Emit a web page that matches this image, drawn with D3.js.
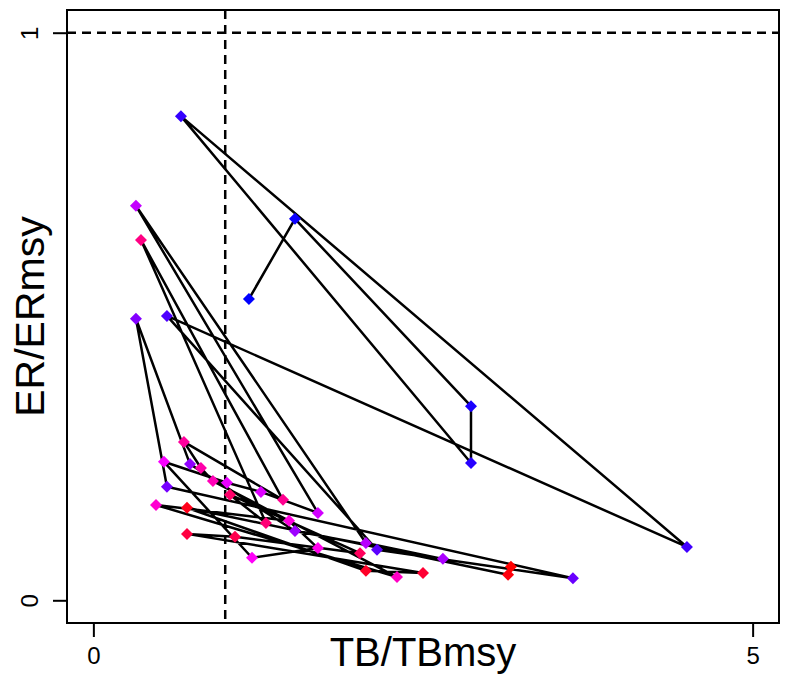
<!DOCTYPE html>
<html><head><meta charset="utf-8">
<script src="https://cdn.jsdelivr.net/npm/d3@7"></script>
<style>body{margin:0;background:#fff}</style>
</head><body>
<svg id="c" width="791" height="681"></svg>
<script>
// Time-ordered trajectory (TB/TBmsy, ER/ERmsy)
const tb = [1.180,1.529,2.864,2.864,0.664,4.502,0.558,2.151,3.637,0.558,
            0.323,0.733,1.529,2.651,2.067,0.323,1.703,1.271,1.013,0.535,
            1.203,1.703,1.484,0.475,2.303,0.907,0.816,0.687,1.438,0.361,
            1.309,1.036,2.022,1.074,0.710,2.500,2.067,0.710,3.145,3.167];
const er = [0.531,0.672,0.342,0.242,0.853,0.094,0.501,0.089,0.039,0.200,
            0.496,0.240,0.122,0.073,0.101,0.695,0.154,0.191,0.207,0.244,
            0.075,0.092,0.140,0.168,0.041,0.210,0.233,0.279,0.177,0.635,
            0.136,0.186,0.083,0.112,0.117,0.048,0.052,0.163,0.045,0.059];
const xTicks = [0, 5];
const yTicks = [0, 1];
const xLabel = "TB/TBmsy";
const yLabel = "ER/ERmsy";
const refX = 1, refY = 1;

const svg = d3.select("#c");
const L = 67, R = 779, T = 10, B = 623;
const x = d3.scaleLinear().domain([-0.2, 5.2]).range([L, R]);
const y = d3.scaleLinear().domain([-0.04, 1.04]).range([B, T]);
const font = "'Liberation Sans', Arial, Helvetica, sans-serif";
const n = tb.length;
const pts = tb.map((v, i) => ({x: v, y: er[i], i}));
const col = i => d3.hsl(240 + 120 * i / (n - 1), 1, 0.5).toString();

// reference lines
svg.append("line").attr("x1", x(refX)).attr("x2", x(refX)).attr("y1", T).attr("y2", B)
  .attr("stroke", "#000").attr("stroke-width", 2.5).attr("stroke-dasharray", "9,6");
svg.append("line").attr("x1", L).attr("x2", R).attr("y1", y(refY)).attr("y2", y(refY))
  .attr("stroke", "#000").attr("stroke-width", 2.5).attr("stroke-dasharray", "9,6");

// trajectory
svg.append("path").datum(pts)
  .attr("d", d3.line().x(d => x(d.x)).y(d => y(d.y)))
  .attr("fill", "none").attr("stroke", "#000").attr("stroke-width", 2.5)
  .attr("stroke-linejoin", "round");

// diamonds
const r = 6;
svg.append("g").selectAll("path").data(pts).join("path")
  .attr("d", d => `M${x(d.x)},${y(d.y)-r}L${x(d.x)+r},${y(d.y)}L${x(d.x)},${y(d.y)+r}L${x(d.x)-r},${y(d.y)}Z`)
  .attr("fill", d => col(d.i));

// frame
svg.append("rect").attr("x", L).attr("y", T).attr("width", R - L).attr("height", B - T)
  .attr("fill", "none").attr("stroke", "#000").attr("stroke-width", 2);

// axes
const gx = svg.append("g").attr("transform", `translate(0,${B})`)
  .call(d3.axisBottom(x).tickValues(xTicks).tickSize(14).tickPadding(10).tickFormat(d3.format("d")));
gx.select(".domain").remove();
gx.selectAll(".tick line").attr("stroke-width", 2);
gx.selectAll(".tick text").attr("font-size", 24).attr("font-family", font).attr("fill", "#000");

const gy = svg.append("g").attr("transform", `translate(${L},0)`)
  .call(d3.axisLeft(y).tickValues(yTicks).tickSize(14).tickFormat(d3.format("d")));
gy.select(".domain").remove();
gy.selectAll(".tick line").attr("stroke-width", 2);
gy.selectAll(".tick text").attr("font-size", 24).attr("font-family", font).attr("fill", "#000")
  .attr("x", null).attr("dy", null)
  .attr("text-anchor", "middle")
  .attr("transform", "translate(-29,0) rotate(-90)");

svg.append("text").attr("x", (L + R) / 2).attr("y", 666).attr("text-anchor", "middle")
  .attr("font-family", font).attr("font-size", 40).text(xLabel);
svg.append("text").attr("transform", `translate(44,${(T + B) / 2}) rotate(-90)`)
  .attr("text-anchor", "middle").attr("font-family", font).attr("font-size", 41).text(yLabel);
</script>
</body></html>
